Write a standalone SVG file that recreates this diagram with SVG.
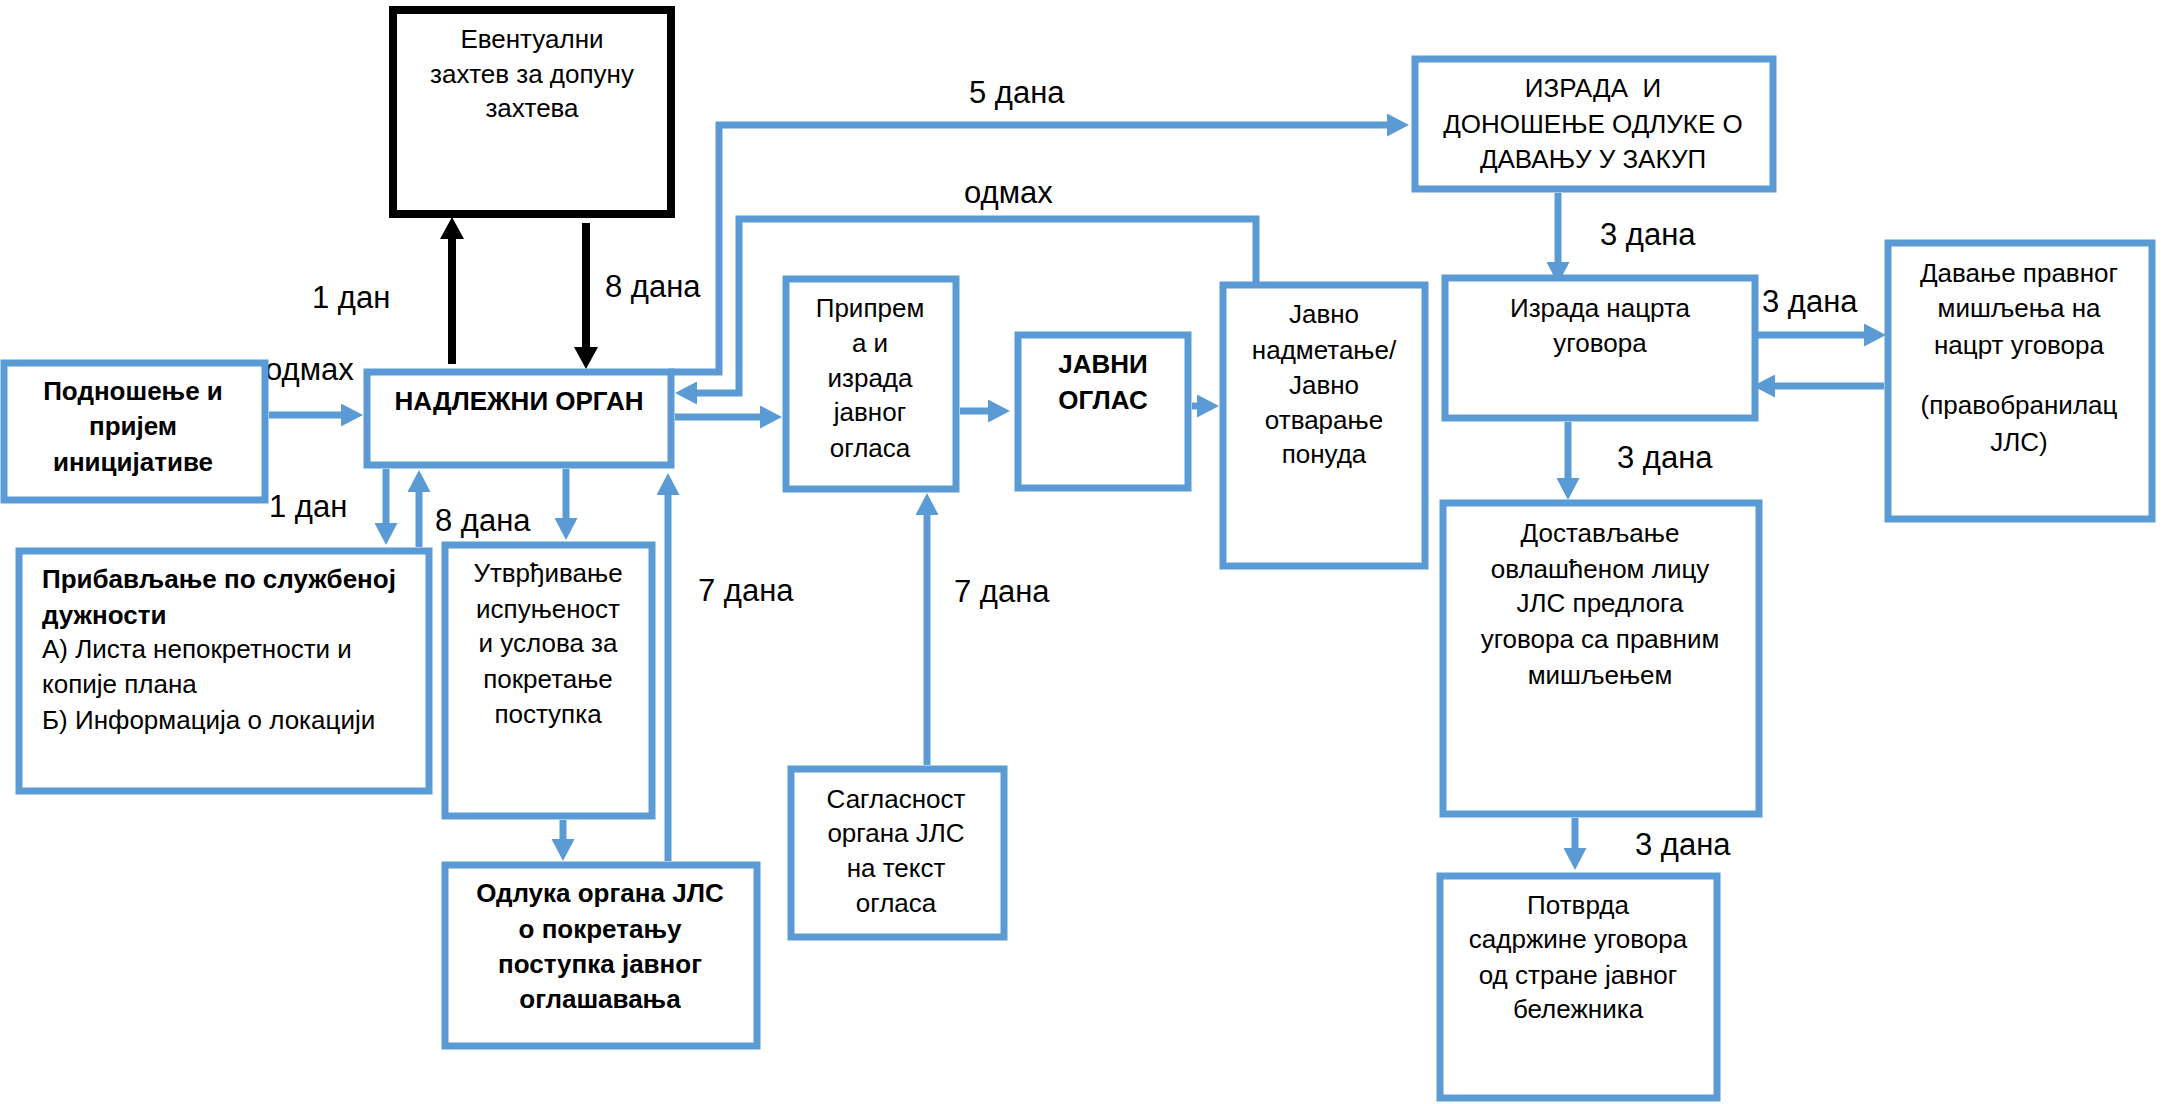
<svg xmlns="http://www.w3.org/2000/svg" width="2163" height="1104" viewBox="0 0 2163 1104">
<style>
.box{fill:#fff;stroke:#5B9BD5;stroke-width:7}
.bbox{fill:#fff;stroke:#000;stroke-width:8}
.t{font-family:"Liberation Sans",Arial,sans-serif;font-size:26px;fill:#000;text-anchor:middle}
.tl{font-family:"Liberation Sans",Arial,sans-serif;font-size:26px;fill:#000}
.b{font-weight:bold}
.lbl{font-family:"Liberation Sans",Arial,sans-serif;font-size:31px;fill:#000}
.c{fill:none;stroke:#5B9BD5;stroke-width:7;marker-end:url(#ah)}
.k{fill:none;stroke:#000;stroke-width:8;marker-end:url(#ahk)}
</style>
<defs>
<marker id="ah" markerUnits="userSpaceOnUse" markerWidth="22" markerHeight="23" refX="0" refY="11.5" orient="auto" viewBox="0 0 22 23"><path d="M0,0 L22,11.5 L0,23 z" fill="#5B9BD5"/></marker>
<marker id="ahk" markerUnits="userSpaceOnUse" markerWidth="22" markerHeight="24" refX="0" refY="12" orient="auto" viewBox="0 0 22 24"><path d="M0,0 L22,12 L0,24 z" fill="#000"/></marker>
</defs>
<rect width="2163" height="1104" fill="#fff"/>
<g id="connectors">
<path class="c" d="M269 415 H341"/>
<path class="k" d="M452 364 V239"/>
<path class="k" d="M586 223 V347"/>
<path class="c" d="M668 372 H719 V125 H1387"/>
<path class="c" d="M1256 285 V219 H739 V393 H697"/>
<path class="c" d="M675 417 H760"/>
<path class="c" d="M960 411 H988"/>
<path class="c" d="M1192 406 H1197"/>
<path class="c" d="M1558 193 V262"/>
<path class="c" d="M1757 335 H1864"/>
<path class="c" d="M1884 386 H1775"/>
<path class="c" d="M1568 422 V478"/>
<path class="c" d="M1575 818 V848"/>
<path class="c" d="M386 469 V523"/>
<path class="c" d="M419 547 V492"/>
<path class="c" d="M566 469 V518"/>
<path class="c" d="M563 820 V839"/>
<path class="c" d="M668 861 V495"/>
<path class="c" d="M927 765 V515"/>
<text class="lbl" x="312" y="308">1 дан</text>
<text class="lbl" x="605" y="297">8 дана</text>
<text class="lbl" x="265" y="380">одмах</text>
<text class="lbl" x="269" y="517">1 дан</text>
<text class="lbl" x="435" y="531">8 дана</text>
<text class="lbl" x="698" y="601">7 дана</text>
<text class="lbl" x="969" y="103">5 дана</text>
<text class="lbl" x="964" y="203">одмах</text>
<text class="lbl" x="954" y="602">7 дана</text>
<text class="lbl" x="1600" y="245">3 дана</text>
<text class="lbl" x="1762" y="312">3 дана</text>
<text class="lbl" x="1617" y="468">3 дана</text>
<text class="lbl" x="1635" y="855">3 дана</text>
</g>
<g id="n-zahtev">
<rect class="bbox" x="393" y="10" width="278" height="204"/>
<text class="t" x="532" y="48">Евентуални</text>
<text class="t" x="532" y="83">захтев за допуну</text>
<text class="t" x="532" y="117">захтева</text>
</g>
<g id="n-podnosenje">
<rect class="box" x="4" y="363" width="261" height="137"/>
<text class="t b" x="133" y="400">Подношење и</text>
<text class="t b" x="133" y="435">пријем</text>
<text class="t b" x="133" y="471">иницијативе</text>
</g>
<g id="n-nadlezni">
<rect class="box" x="367" y="372" width="304" height="93"/>
<text class="t b" x="519" y="410">НАДЛЕЖНИ ОРГАН</text>
</g>
<g id="n-pribavljanje">
<rect class="box" x="19" y="551" width="410" height="240"/>
<text class="tl b" x="42" y="588">Прибављање по службеној</text>
<text class="tl b" x="42" y="624">дужности</text>
<text class="tl" x="42" y="658">А) Листа непокретности и</text>
<text class="tl" x="42" y="693">копије плана</text>
<text class="tl" x="42" y="729">Б) Информација о локацији</text>
</g>
<g id="n-utvrdjivanje">
<rect class="box" x="445" y="545" width="207" height="271"/>
<text class="t" x="548" y="582">Утврђивање</text>
<text class="t" x="548" y="618">испуњеност</text>
<text class="t" x="548" y="652">и услова за</text>
<text class="t" x="548" y="688">покретање</text>
<text class="t" x="548" y="723">поступка</text>
</g>
<g id="n-odluka">
<rect class="box" x="445" y="865" width="312" height="181"/>
<text class="t b" x="600" y="902">Одлука органа ЈЛС</text>
<text class="t b" x="600" y="938">о покретању</text>
<text class="t b" x="600" y="973">поступка јавног</text>
<text class="t b" x="600" y="1008">оглашавања</text>
</g>
<g id="n-priprema">
<rect class="box" x="786" y="279" width="170" height="210"/>
<text class="t" x="870" y="317">Припрем</text>
<text class="t" x="870" y="352">а и</text>
<text class="t" x="870" y="387">израда</text>
<text class="t" x="870" y="421">јавног</text>
<text class="t" x="870" y="457">огласа</text>
</g>
<g id="n-javni-oglas">
<rect class="box" x="1018" y="335" width="170" height="153"/>
<text class="t b" x="1103" y="373">ЈАВНИ</text>
<text class="t b" x="1103" y="409">ОГЛАС</text>
</g>
<g id="n-javno">
<rect class="box" x="1223" y="285" width="202" height="281"/>
<text class="t" x="1324" y="323">Јавно</text>
<text class="t" x="1324" y="359">надметање/</text>
<text class="t" x="1324" y="394">Јавно</text>
<text class="t" x="1324" y="429">отварање</text>
<text class="t" x="1324" y="463">понуда</text>
</g>
<g id="n-saglasnost">
<rect class="box" x="791" y="769" width="213" height="168"/>
<text class="t" x="896" y="808">Сагласност</text>
<text class="t" x="896" y="842">органа ЈЛС</text>
<text class="t" x="896" y="877">на текст</text>
<text class="t" x="896" y="912">огласа</text>
</g>
<g id="n-izrada-odluke">
<rect class="box" x="1415" y="59" width="358" height="130"/>
<text class="t" x="1593" y="97" xml:space="preserve">ИЗРАДА  И</text>
<text class="t" x="1593" y="133">ДОНОШЕЊЕ ОДЛУКЕ О</text>
<text class="t" x="1593" y="168">ДАВАЊУ У ЗАКУП</text>
</g>
<g id="n-nacrt">
<rect class="box" x="1445" y="278" width="310" height="140"/>
<text class="t" x="1600" y="317">Израда нацрта</text>
<text class="t" x="1600" y="352">уговора</text>
</g>
<g id="n-davanje">
<rect class="box" x="1888" y="243" width="264" height="276"/>
<text class="t" x="2019" y="282">Давање правног</text>
<text class="t" x="2019" y="317">мишљења на</text>
<text class="t" x="2019" y="354">нацрт уговора</text>
<text class="t" x="2019" y="414">(правобранилац</text>
<text class="t" x="2019" y="451">ЈЛС)</text>
</g>
<g id="n-dostavljanje">
<rect class="box" x="1443" y="503" width="316" height="311"/>
<text class="t" x="1600" y="542">Достављање</text>
<text class="t" x="1600" y="578">овлашћеном лицу</text>
<text class="t" x="1600" y="612">ЈЛС предлога</text>
<text class="t" x="1600" y="648">уговора са правним</text>
<text class="t" x="1600" y="684">мишљењем</text>
</g>
<g id="n-potvrda">
<rect class="box" x="1440" y="876" width="277" height="222"/>
<text class="t" x="1578" y="914">Потврда</text>
<text class="t" x="1578" y="948">садржине уговора</text>
<text class="t" x="1578" y="984">од стране јавног</text>
<text class="t" x="1578" y="1018">бележника</text>
</g>
</svg>
